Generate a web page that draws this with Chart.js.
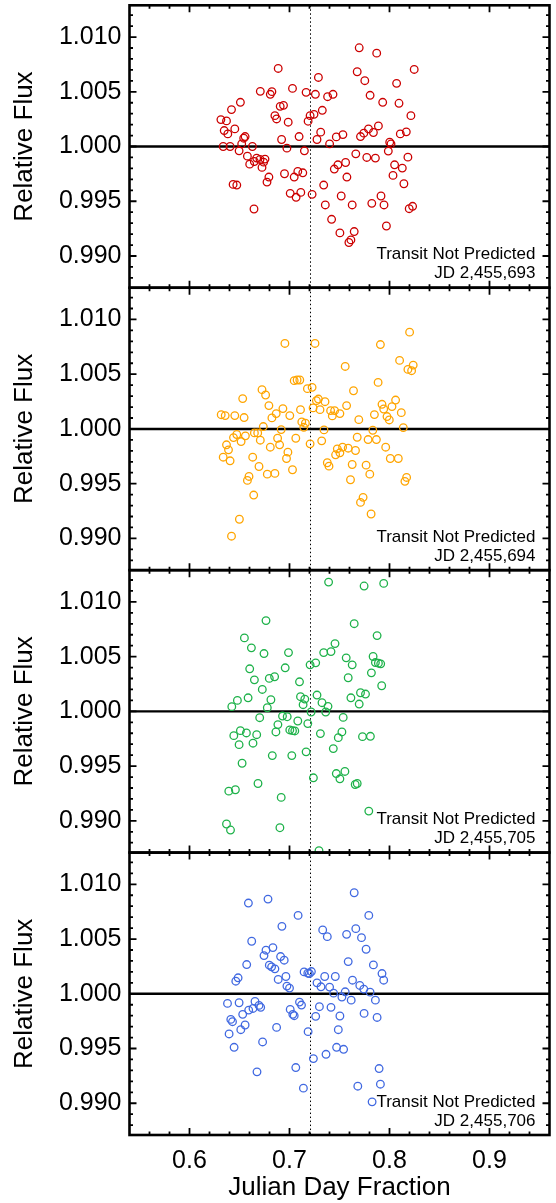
<!DOCTYPE html>
<html>
<head>
<meta charset="utf-8">
<script src="https://cdn.jsdelivr.net/npm/chart.js@4/dist/chart.umd.min.js"></script>
<style>
html,body{margin:0;padding:0;background:#fff;}
canvas{display:block;}
</style>
</head>
<body>
<canvas id="c" width="556" height="1203"></canvas>
<script>
// ---- chart data ----
const nights = ['JD 2,455,693', 'JD 2,455,694', 'JD 2,455,705', 'JD 2,455,706'];
const panelNote = 'Transit Not Predicted';
const colors = ['#cc0000', '#ffa500', '#1eb24a', '#4169e1'];
const xTickValues = [0.6, 0.7, 0.8, 0.9];
const yTickValues = [0.990, 0.995, 1.000, 1.005, 1.010];
const xRange = [0.54, 0.96];
const yRange = [0.9871, 1.0129];
const midTransit = 0.72;
const baselineFlux = 1.0;

const x693 = [0.7697,0.7872,0.6887,0.8247,0.7677,0.7289,0.7753,0.8071,0.7030,0.6708,
0.6824,0.6808,0.7166,0.7259,0.7381,0.7435,0.7806,0.6509,0.6907,0.6940,
0.7932,0.8095,0.6420,0.7328,0.7206,0.7245,0.6854,0.6871,0.8214,0.6314,
0.6370,0.6987,0.7186,0.6347,0.6383,0.6453,0.7312,0.7790,0.7889,0.7839,
0.7743,0.7710,0.8108,0.8168,0.6556,0.6542,0.7096,0.6921,0.7275,0.7468,
0.7534,0.7401,0.8002,0.8015,0.6337,0.6406,0.6522,0.6629,0.6496,0.6974,
0.7149,0.7663,0.7988,0.8184,0.6579,0.6672,0.6602,0.6648,0.6705,0.6755,
0.6741,0.6725,0.7773,0.7859,0.7561,0.7484,0.7448,0.8051,0.8128,0.6950,
0.7083,0.7133,0.7047,0.6794,0.6775,0.7574,0.8035,0.6436,0.6473,0.7342,
0.8144,0.7007,0.7113,0.7066,0.7226,0.7517,0.7915,0.6645,0.7358,0.7627,
0.7823,0.7945,0.8197,0.8231,0.7421,0.7969,0.7504,0.7647,0.7594,0.7614];
const f693 = [1.00902,1.00853,1.00713,1.00704,1.00683,1.00631,1.00601,1.00577,1.00531,1.00504,
1.00501,1.00477,1.00495,1.00477,1.00455,1.00477,1.00468,1.00404,1.00367,1.00376,
1.00404,1.00395,1.00337,1.00331,1.00282,1.00294,1.00282,1.00252,1.00282,1.00246,
1.00234,1.00222,1.00231,1.00146,1.00115,1.00161,1.00131,1.00161,1.00188,1.00128,
1.00122,1.00091,1.00115,1.00134,1.00091,1.00076,1.00091,1.00064,1.00064,1.00088,
1.00109,1.00024,1.00039,1.00024,1.00000,1.00000,1.00024,1.00000,0.99961,0.99985,
0.99961,0.99933,0.99958,0.99903,0.99912,0.99894,0.99839,0.99863,0.99882,0.99885,
0.99857,0.99809,0.99900,0.99894,0.99854,0.99833,0.99794,0.99833,0.99803,0.99751,
0.99772,0.99760,0.99721,0.99721,0.99675,0.99721,0.99736,0.99654,0.99648,0.99648,
0.99660,0.99572,0.99581,0.99536,0.99563,0.99548,0.99548,0.99429,0.99466,0.99466,
0.99481,0.99466,0.99432,0.99454,0.99335,0.99274,0.99211,0.99223,0.99123,0.99147];

const x694 = [0.8201,0.6954,0.7255,0.7909,0.8101,0.8237,0.8184,0.8221,0.7557,0.7047,
0.7076,0.7103,0.7886,0.7179,0.7226,0.6725,0.6761,0.7640,0.6532,0.7269,
0.7289,0.7355,0.8061,0.7925,0.6794,0.7571,0.6934,0.7236,0.7110,0.7305,
0.7411,0.7451,0.7428,0.7504,0.7942,0.8025,0.8118,0.7849,0.7975,0.7998,
0.6867,0.6824,0.7003,0.6317,0.6357,0.6453,0.6546,0.7693,0.7123,0.7159,
0.7143,0.6738,0.6917,0.7345,0.7833,0.8138,0.6473,0.6559,0.6440,0.6649,
0.6682,0.6516,0.6708,0.6881,0.7063,0.7322,0.7677,0.7786,0.7869,0.6370,
0.6390,0.6808,0.6901,0.7206,0.7478,0.7531,0.7504,0.7461,0.7587,0.7660,
0.7962,0.6337,0.6406,0.6632,0.6984,0.6970,0.8008,0.8088,0.6695,0.7030,
0.7378,0.7395,0.7627,0.7766,0.6595,0.6579,0.6778,0.6854,0.7803,0.7610,
0.8171,0.8154,0.6642,0.7736,0.7710,0.7816,0.6499,0.6420];
const f694 = [1.00884,1.00781,1.00781,1.00771,1.00626,1.00583,1.00544,1.00532,1.00571,1.00441,
1.00447,1.00447,1.00425,1.00368,1.00380,1.00359,1.00310,1.00349,1.00277,1.00258,
1.00273,1.00249,1.00264,1.00225,1.00213,1.00213,1.00186,1.00192,1.00176,1.00176,
1.00167,1.00167,1.00119,1.00140,1.00182,1.00204,1.00149,1.00131,1.00113,1.00082,
1.00140,1.00101,1.00122,1.00130,1.00122,1.00122,1.00104,1.00085,1.00064,1.00052,
1.00015,1.00022,0.99994,0.99991,0.99988,1.00012,0.99949,0.99937,0.99921,0.99964,
0.99964,0.99885,0.99897,0.99915,0.99915,0.99891,0.99924,0.99903,0.99903,0.99855,
0.99809,0.99833,0.99855,0.99864,0.99818,0.99833,0.99782,0.99764,0.99824,0.99803,
0.99833,0.99742,0.99709,0.99742,0.99788,0.99730,0.99730,0.99730,0.99657,0.99627,
0.99691,0.99660,0.99675,0.99669,0.99566,0.99530,0.99587,0.99594,0.99587,0.99536,
0.99557,0.99521,0.99396,0.99375,0.99329,0.99223,0.99175,0.99020];

const x705 = [0.7391,0.7746,0.7942,0.6765,0.7647,0.6549,0.7876,0.6619,0.7455,0.6745,
0.6990,0.7342,0.7415,0.7567,0.7836,0.7859,0.7889,0.7912,0.7206,0.7262,
0.7627,0.6602,0.6957,0.7819,0.6649,0.6798,0.6851,0.7587,0.7100,0.7922,
0.6728,0.6586,0.6479,0.6814,0.7110,0.7153,0.7275,0.7614,0.7710,0.7760,
0.6423,0.6778,0.7136,0.7325,0.7385,0.7362,0.7697,0.7216,0.6702,0.6930,
0.6977,0.7537,0.7083,0.7183,0.6884,0.6864,0.6509,0.6569,0.6443,0.6672,
0.7003,0.7030,0.7053,0.7309,0.7524,0.7488,0.7730,0.7809,0.6496,0.6635,
0.7438,0.7166,0.6828,0.7023,0.6526,0.7239,0.7468,0.7554,0.7504,0.6685,
0.7657,0.7677,0.6393,0.6459,0.6917,0.7793,0.6370,0.6410,0.6904,0.7295];
const f705 = [1.01181,1.01145,1.01169,1.00829,1.00801,1.00671,1.00692,1.00580,1.00619,1.00528,
1.00537,1.00537,1.00546,1.00489,1.00501,1.00446,1.00440,1.00434,1.00425,1.00443,
1.00425,1.00389,1.00398,1.00352,1.00288,1.00301,1.00316,1.00307,1.00270,1.00234,
1.00200,1.00124,1.00100,1.00106,1.00134,1.00112,1.00149,1.00124,1.00170,1.00158,
1.00043,1.00033,1.00061,1.00079,1.00046,0.99994,1.00067,0.99994,0.99942,0.99957,
0.99951,0.99945,0.99912,0.99888,0.99879,0.99812,0.99824,0.99803,0.99778,0.99787,
0.99830,0.99824,0.99821,0.99797,0.99812,0.99760,0.99769,0.99772,0.99696,0.99709,
0.99660,0.99630,0.99596,0.99596,0.99526,0.99393,0.99432,0.99451,0.99384,0.99341,
0.99332,0.99341,0.99271,0.99284,0.99214,0.99089,0.98971,0.98916,0.98937,0.98728];

const x706 = [0.7647,0.6589,0.6785,0.7086,0.7793,0.6924,0.7332,0.7378,0.7663,0.7571,
0.7720,0.6622,0.7766,0.6765,0.6834,0.6745,0.6911,0.6947,0.7587,0.6572,
0.7839,0.6798,0.6821,0.6854,0.7925,0.7942,0.7146,0.7183,0.7219,0.7199,
0.6964,0.6887,0.7352,0.7458,0.7630,0.6486,0.6463,0.6974,0.7000,0.7275,
0.7315,0.7401,0.7703,0.7743,0.7806,0.7441,0.7557,0.7524,0.7617,0.7859,
0.6380,0.6496,0.6655,0.6695,0.6712,0.6635,0.6592,0.7100,0.7120,0.7007,
0.7033,0.7047,0.7299,0.7415,0.6532,0.6413,0.6430,0.7262,0.7504,0.7746,
0.7876,0.6556,0.6513,0.6396,0.6871,0.7186,0.7488,0.6446,0.6731,0.7471,
0.7541,0.7365,0.7239,0.6675,0.7063,0.7896,0.7139,0.7683,0.7909,0.7826];
const f706 = [1.00923,1.00829,1.00865,1.00716,1.00716,1.00616,1.00583,1.00522,1.00595,1.00543,
1.00513,1.00480,1.00407,1.00398,1.00422,1.00349,1.00340,1.00307,1.00294,1.00267,
1.00264,1.00261,1.00246,1.00228,1.00185,1.00124,1.00200,1.00188,1.00203,1.00185,
1.00158,1.00131,1.00158,1.00158,1.00124,1.00146,1.00115,1.00070,1.00052,1.00100,
1.00064,1.00061,1.00076,1.00043,1.00015,1.00006,1.00018,0.99970,0.99942,0.99942,
0.99912,0.99918,0.99930,0.99894,0.99876,0.99866,0.99851,0.99924,0.99897,0.99857,
0.99812,0.99800,0.99882,0.99876,0.99812,0.99766,0.99745,0.99794,0.99797,0.99821,
0.99784,0.99715,0.99672,0.99633,0.99693,0.99654,0.99672,0.99511,0.99560,0.99511,
0.99493,0.99447,0.99408,0.99287,0.99326,0.99317,0.99138,0.99156,0.99174,0.99013];

const panels = [
  {x: x693, y: f693},
  {x: x694, y: f694},
  {x: x705, y: f705},
  {x: x706, y: f706}
];

// ---- rendering ----
const FONT = '"Liberation Sans", Arial, Helvetica, sans-serif';
Chart.defaults.font.family = FONT;
Chart.defaults.color = '#000';

const frame = {
  id: 'frame',
  beforeDatasetsDraw(chart) {
    const {ctx, chartArea} = chart;
    const xs = chart.scales.x;
    panels.forEach((p, i) => {
      const ys = chart.scales['y' + i];
      ctx.save();
      ctx.strokeStyle = '#000';
      const py = ys.getPixelForValue(baselineFlux);
      ctx.lineWidth = 2.4;
      ctx.beginPath(); ctx.moveTo(chartArea.left, py); ctx.lineTo(chartArea.right, py); ctx.stroke();
      const px = Math.round(xs.getPixelForValue(midTransit)) + 0.5;
      ctx.lineWidth = 1;
      ctx.setLineDash([1.5, 2.5]);
      ctx.beginPath(); ctx.moveTo(px, ys.top); ctx.lineTo(px, ys.bottom); ctx.stroke();
      ctx.restore();
    });
  },
  beforeDatasetDraw(chart, args) {
    const ys = chart.scales['y' + args.index];
    const {ctx, chartArea} = chart;
    ctx.save();
    ctx.beginPath();
    ctx.rect(chartArea.left, ys.top, chartArea.right - chartArea.left, ys.bottom - ys.top);
    ctx.clip();
  },
  afterDatasetDraw(chart) {
    chart.ctx.restore();
  },
  afterDatasetsDraw(chart) {
    const {ctx, chartArea} = chart;
    const xs = chart.scales.x;
    const L = chartArea.left, R = chartArea.right;
    const majorLen = 7, minorLen = 3.5;
    panels.forEach((p, i) => {
      const ys = chart.scales['y' + i];
      const T = ys.top, B = ys.bottom;
      ctx.save();
      ctx.strokeStyle = '#000';
      ctx.lineWidth = 1.8;
      ctx.beginPath();
      const m0 = Math.ceil(yRange[0] * 1000 + 1e-6), m1 = Math.floor(yRange[1] * 1000 - 1e-6);
      for (let m = m0; m <= m1; m++) {
        const v = m / 1000;
        const len = (m % 5 === 0) ? majorLen : minorLen;
        const y = ys.getPixelForValue(v);
        ctx.moveTo(L, y); ctx.lineTo(L + len, y);
        ctx.moveTo(R, y); ctx.lineTo(R - len, y);
      }
      const n0 = Math.ceil(xRange[0] / 0.02 + 1e-6), n1 = Math.floor(xRange[1] / 0.02 - 1e-6);
      for (let n = n0; n <= n1; n++) {
        const v = n * 0.02;
        const len = (n % 5 === 0) ? majorLen : minorLen;
        const x = xs.getPixelForValue(v);
        ctx.moveTo(x, T); ctx.lineTo(x, T + len);
        ctx.moveTo(x, B); ctx.lineTo(x, B - len);
      }
      ctx.stroke();
      ctx.lineWidth = 2.6;
      ctx.strokeRect(L, T, R - L, B - T);
      ctx.fillStyle = '#000';
      ctx.font = '17px ' + FONT;
      ctx.textAlign = 'right';
      ctx.textBaseline = 'middle';
      ctx.fillText(panelNote, R - 14, B - 33);
      ctx.fillText(nights[i], R - 14, B - 14);
      ctx.restore();
    });
  }
};

const scales = {
  x: {
    type: 'linear', position: 'bottom', min: xRange[0], max: xRange[1],
    afterBuildTicks: s => { s.ticks = xTickValues.map(v => ({value: v})); },
    afterFit: s => { s.height = 68; s.paddingLeft = 0; s.paddingRight = 0; },
    grid: {display: false, drawTicks: false},
    border: {display: false},
    ticks: {autoSkip: false, maxRotation: 0, padding: 11, font: {size: 25}, color: '#000',
            callback: v => Number(v).toFixed(1)},
    title: {display: true, text: 'Julian Day Fraction', font: {size: 26}, color: '#000',
            padding: {top: 0, bottom: 0}}
  }
};
panels.forEach((p, i) => {
  scales['y' + i] = {
    type: 'linear', position: 'left', stack: 'flux', stackWeight: 1, weight: 4 - i,
    min: yRange[0], max: yRange[1],
    afterBuildTicks: s => { s.ticks = yTickValues.map(v => ({value: v})); },
    afterFit: s => { s.width = 129.5; s.paddingTop = 0; s.paddingBottom = 0; },
    grid: {display: false, drawTicks: false},
    border: {display: false},
    ticks: {autoSkip: false, padding: 8, font: {size: 25}, color: '#000',
            callback: v => Number(v).toFixed(3)},
    title: {display: true, text: 'Relative Flux', font: {size: 26}, color: '#000',
            padding: {top: 9, bottom: 0}}
  };
});

new Chart(document.getElementById('c'), {
  type: 'scatter',
  data: {
    datasets: panels.map((p, i) => ({
      label: nights[i],
      data: p.x.map((x, k) => ({x: x, y: p.y[k]})),
      xAxisID: 'x',
      yAxisID: 'y' + i,
      pointStyle: 'circle',
      pointRadius: 3.8,
      pointBorderWidth: 1.3,
      borderColor: colors[i],
      backgroundColor: 'rgba(0,0,0,0)',
      pointBackgroundColor: 'rgba(0,0,0,0)',
      showLine: false
    }))
  },
  options: {
    responsive: false,
    animation: false,
    devicePixelRatio: 1,
    events: [],
    layout: {padding: {left: 0, right: 6.5, top: 3.5, bottom: 0}},
    plugins: {legend: {display: false}, tooltip: {enabled: false}},
    scales: scales
  },
  plugins: [frame]
});
</script>
</body>
</html>
